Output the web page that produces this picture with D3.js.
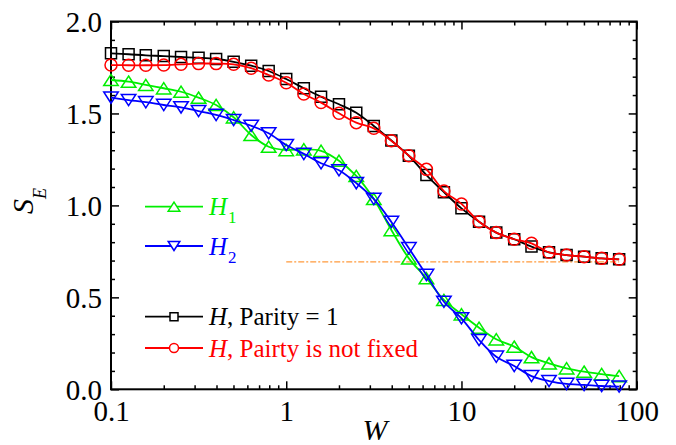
<!DOCTYPE html>
<html>
<head>
<meta charset="utf-8">
<script src="https://cdn.jsdelivr.net/npm/d3@7"></script>
<style>
  body { margin: 0; background: #fff; }
  svg text { font-family: "Liberation Serif", "Times New Roman", Times, "DejaVu Serif", serif; }
</style>
</head>
<body>
<div id="chart"></div>
<script>
// W values (log spaced, 10 per decade)
var W = [0.1, 0.126, 0.158, 0.2, 0.251, 0.316, 0.398, 0.501, 0.631, 0.794,
         1, 1.26, 1.58, 2, 2.51, 3.16, 3.98, 5.01, 6.31, 7.94,
         10, 12.6, 15.8, 20, 25.1, 31.6, 39.8, 50.1, 63.1, 79.4];

// S_E for each case
var parityOne = [1.827, 1.822, 1.816, 1.812, 1.807, 1.803, 1.796, 1.781, 1.760, 1.731,
                 1.687, 1.637, 1.591, 1.550, 1.504, 1.432, 1.353, 1.270, 1.165, 1.072,
                 0.984, 0.911, 0.852, 0.816, 0.776, 0.745, 0.730, 0.721, 0.712, 0.707];
var parityFree = [1.763, 1.762, 1.762, 1.763, 1.767, 1.771, 1.771, 1.767, 1.746, 1.709,
                  1.667, 1.606, 1.559, 1.501, 1.450, 1.419, 1.352, 1.270, 1.196, 1.078,
                  1.008, 0.911, 0.852, 0.816, 0.794, 0.745, 0.730, 0.721, 0.712, 0.707];
var h1 = [1.682, 1.673, 1.655, 1.637, 1.618, 1.586, 1.546, 1.479, 1.383, 1.319,
          1.301, 1.305, 1.297, 1.243, 1.160, 1.035, 0.866, 0.712, 0.604, 0.486,
          0.408, 0.335, 0.272, 0.232, 0.175, 0.141, 0.114, 0.096, 0.083, 0.072];
var h2 = [1.586, 1.573, 1.561, 1.546, 1.533, 1.513, 1.492, 1.464, 1.433, 1.392,
          1.328, 1.280, 1.229, 1.191, 1.121, 1.035, 0.910, 0.767, 0.622, 0.476,
          0.386, 0.268, 0.177, 0.127, 0.072, 0.045, 0.029, 0.024, 0.018, 0.015];

// reference line ln2
var refLineX = [1, 79.4];
var refLineY = 0.693;

var xMajor = [0.1, 1, 10, 100];
var xMajorLabels = ["0.1", "1", "10", "100"];
var xMinor = [0.2, 0.3, 0.4, 0.5, 0.6, 0.7, 0.8, 0.9, 2, 3, 4, 5, 6, 7, 8, 9, 20, 30, 40, 50, 60, 70, 80, 90];
var yMajor = [0, 0.5, 1.0, 1.5, 2.0];
var yMinor = [0.1, 0.2, 0.3, 0.4, 0.6, 0.7, 0.8, 0.9, 1.1, 1.2, 1.3, 1.4, 1.6, 1.7, 1.8, 1.9];

var width = 676, height = 445;
var margin = {top: 21.5, right: 39.3, bottom: 55.7, left: 111};
var serif = "Liberation Serif, Times New Roman, DejaVu Serif, serif";

var svg = d3.select("#chart").append("svg")
    .attr("width", width)
    .attr("height", height)
    .attr("font-family", serif);

var x = d3.scaleLog().domain([0.1, 100]).range([margin.left, width - margin.right]);
var y = d3.scaleLinear().domain([0, 2]).range([height - margin.bottom, margin.top]);

//axes with inward ticks
function drawAxis(axisFn, scale, values, size, pos, labels) {
    var g = svg.append("g")
        .attr("transform", pos)
        .call(axisFn(scale).tickValues(values).tickSizeInner(-size).tickSizeOuter(0)
            .tickFormat(function (d, i) { return labels ? labels[i] : ""; }));
    g.attr("font-family", serif);
    g.select(".domain").remove();
    g.selectAll("line").attr("stroke", "#000").attr("stroke-width", 1.5);
    return g;
}
var bottomY = height - margin.bottom, rightX = width - margin.right;
var gx = drawAxis(d3.axisBottom, x, xMajor, 8, "translate(0," + bottomY + ")", xMajorLabels);
gx.selectAll("text").attr("font-size", 29).attr("dy", 0).attr("y", 32).attr("fill", "#000");
drawAxis(d3.axisBottom, x, xMinor, 4, "translate(0," + bottomY + ")");
drawAxis(d3.axisTop, x, xMajor, 8, "translate(0," + margin.top + ")");
drawAxis(d3.axisTop, x, xMinor, 4, "translate(0," + margin.top + ")");
var gy = drawAxis(d3.axisLeft, y, yMajor, 8, "translate(" + margin.left + ",0)", yMajor.map(d3.format(".1f")));
gy.selectAll("text").attr("font-size", 29).attr("x", -9).attr("dy", "0.35em").attr("fill", "#000");
drawAxis(d3.axisLeft, y, yMinor, 4, "translate(" + margin.left + ",0)");
drawAxis(d3.axisRight, y, yMajor, 8, "translate(" + rightX + ",0)");
drawAxis(d3.axisRight, y, yMinor, 4, "translate(" + rightX + ",0)");

// frame
svg.append("rect")
    .attr("x", margin.left)
    .attr("y", margin.top)
    .attr("width", rightX - margin.left)
    .attr("height", bottomY - margin.top)
    .attr("fill", "none")
    .attr("stroke", "#000")
    .attr("stroke-width", 2);

// axis titles
svg.append("text")
    .attr("x", 375)
    .attr("y", 440)
    .attr("text-anchor", "middle")
    .attr("font-size", 30)
    .attr("font-style", "italic")
    .text("W");
var yl = svg.append("text")
    .attr("transform", "translate(33,214) rotate(-90)")
    .attr("font-size", 30);
yl.append("tspan").attr("font-style", "italic").text("S");
yl.append("tspan").attr("font-style", "italic").attr("font-size", 18).attr("dy", 13).text("E");

// orange dash-dot line
svg.append("line")
    .attr("x1", x(refLineX[0]))
    .attr("x2", x(refLineX[1]))
    .attr("y1", y(refLineY))
    .attr("y2", y(refLineY))
    .attr("stroke", "#ff9a3c")
    .attr("stroke-width", 1.2)
    .attr("stroke-dasharray", "6,2,2,2");

// marker shapes, centred on their box
function markerPath(kind, s) {
    var h = s / 2;
    if (kind === "square") return "M" + (-h) + "," + (-h) + "H" + h + "V" + h + "H" + (-h) + "Z";
    if (kind === "circle") return "M" + h + ",0A" + h + "," + h + " 0 1,1 " + (-h) + ",0A" + h + "," + h + " 0 1,1 " + h + ",0Z";
    var w = s * 0.58, t = s * 0.45;
    if (kind === "up") return "M0," + (-t) + "L" + w + "," + t + "L" + (-w) + "," + t + "Z";
    return "M0," + t + "L" + w + "," + (-t) + "L" + (-w) + "," + (-t) + "Z";
}

var series = [
    {values: parityOne, color: "#000000", marker: "square", size: 11},
    {values: parityFree, color: "#ff0000", marker: "circle", size: 12},
    {values: h1, color: "#00ee00", marker: "up", size: 12.5},
    {values: h2, color: "#0000ff", marker: "down", size: 12.5}
];

var line = d3.line()
    .x(function (d, i) { return x(W[i]); })
    .y(function (d) { return y(d); })
    .curve(d3.curveCatmullRom.alpha(0.5));

series.forEach(function (s) {
    svg.append("path")
        .attr("d", line(s.values))
        .attr("fill", "none")
        .attr("stroke", s.color)
        .attr("stroke-width", 1.8);
    svg.append("g").selectAll("path")
        .data(s.values).enter()
        .append("path")
        .attr("transform", function (d, i) { return "translate(" + x(W[i]) + "," + y(d) + ")"; })
        .attr("d", markerPath(s.marker, s.size))
        .attr("fill", "none")
        .attr("stroke", s.color)
        .attr("stroke-width", 1.5);
});

// legend
var legendItems = [
    {color: "#00ee00", marker: "up", size: 10, y: 206.7, label: [["H", true], ["1", false, "sub"]]},
    {color: "#0000ff", marker: "down", size: 10, y: 246, label: [["H", true], ["2", false, "sub"]]},
    {color: "#000000", marker: "square", size: 8, y: 316.7, label: [["H", true], [", Parity = 1", false]]},
    {color: "#ff0000", marker: "circle", size: 9, y: 348, label: [["H", true], [", Pairty is not fixed", false]]}
];
legendItems.forEach(function (it) {
    svg.append("line")
        .attr("x1", 145).attr("x2", 203)
        .attr("y1", it.y).attr("y2", it.y)
        .attr("stroke", it.color)
        .attr("stroke-width", 1.8);
    svg.append("path")
        .attr("transform", "translate(174," + it.y + ")")
        .attr("d", markerPath(it.marker, it.size))
        .attr("fill", "#fff")
        .attr("stroke", it.color)
        .attr("stroke-width", 1.5);
    var t = svg.append("text")
        .attr("x", 209)
        .attr("y", it.y + 8.5)
        .attr("font-size", 25)
        .attr("fill", it.color);
    it.label.forEach(function (p) {
        var sp = t.append("tspan").text(p[0]);
        if (p[1]) sp.attr("font-style", "italic");
        if (p[2] === "sub") sp.attr("font-size", 17).attr("dy", 8).attr("dx", 1);
    });
});
</script>
</body>
</html>
